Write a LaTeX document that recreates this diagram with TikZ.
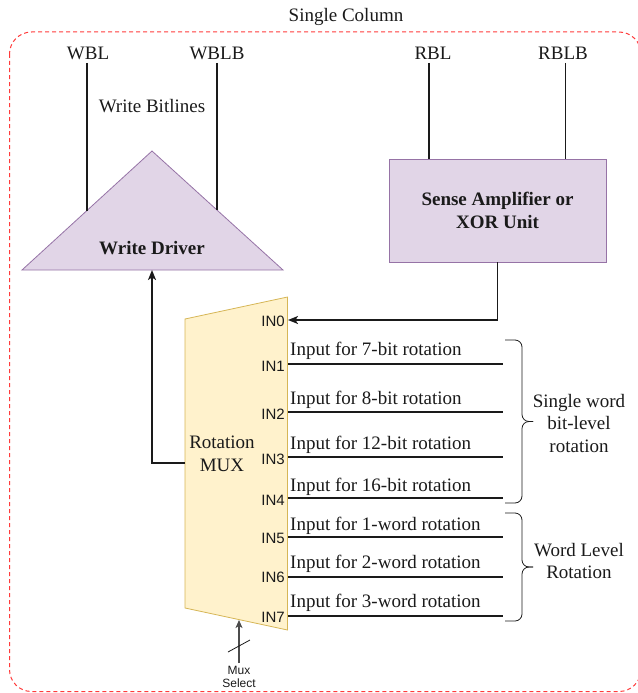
\documentclass[tikz,border=0pt]{standalone}
\usepackage{fontspec}
\setmainfont{Liberation Serif}
\newfontfamily\arialf{Liberation Sans}
\usetikzlibrary{arrows.meta,calc}
\definecolor{purfill}{HTML}{E1D5E7}
\definecolor{purline}{HTML}{9673A6}
\definecolor{yelfill}{HTML}{FFF2CC}
\definecolor{yelline}{HTML}{D6B656}
\definecolor{framered}{HTML}{FF3B3B}
\definecolor{txt}{HTML}{1A1A1A}
\tikzset{
  lbl/.style={font=\fontsize{19}{22.5}\selectfont, inner sep=0pt, text=txt, align=center},
  boldlbl/.style={font=\fontsize{19}{22.5}\selectfont\bfseries, inner sep=0pt, text=txt, align=center},
  inlbl/.style={font=\arialf\fontsize{15}{17}\selectfont, inner sep=0pt, text=txt, anchor=east},
  wire/.style={draw=txt, line width=1.6pt},
  purshape/.style={draw=purline, fill=purfill, line width=0.8pt},
  muxshape/.style={draw=yelline, fill=yelfill, line width=0.8pt},
  bracestyle/.style={draw=txt, line width=0.8pt, rounded corners=7pt},
  tip/.style={-{Stealth[length=10pt,width=8pt,inset=2.5pt]}},
  framestyle/.style={draw=framered, line width=1pt, dash pattern=on 4pt off 3pt, rounded corners=22pt}
}
\begin{document}
\begin{tikzpicture}[x=1pt,y=-1pt]
\useasboundingbox (0,0) rectangle (637,693);
% frame
\draw[framestyle] (9.5,32) rectangle (641,691.5);
\node[lbl] (title) at (346,17) {Single Column};
% top labels
\node[lbl] (wbl)  at (88,53)  {WBL};
\node[lbl] (wblb) at (217,53) {WBLB};
\node[lbl] (rbl)  at (433,53) {RBL};
\node[lbl] (rblb) at (563,53) {RBLB};
\node[lbl] (wbt)  at (152,106) {Write Bitlines};
% write driver triangle
\coordinate (tl) at (22,270);
\coordinate (apex) at (152,151);
\coordinate (tr) at (283,270);
\draw[purshape] (tl) -- (apex) -- (tr) -- cycle;
\node[boldlbl] (wd) at (152,248) {Write Driver};
\coordinate (wdin) at (152,270);
% bitline wires to write driver
\coordinate (wblA) at (87,63);   \coordinate (wblB) at (87,210.5);
\coordinate (wblbA) at (217,63); \coordinate (wblbB) at (217,210);
\draw[wire] (wblA) -- (wblB);
\draw[wire] (wblbA) -- (wblbB);
% sense amplifier box
\node[purshape, boldlbl, minimum width=217pt, minimum height=103pt] (sa) at (497.5,210.5) {Sense Amplifier or\\XOR Unit};
\coordinate (rblA) at (429,63);
\coordinate (rblbA) at (565.5,63);
\draw[wire] (rblA) -- (rblA |- sa.north);
\draw[wire] (rblbA) -- (rblbA |- sa.north);
% MUX
\coordinate (mtl) at (185,319);
\coordinate (mtr) at (287.5,297);
\coordinate (mbr) at (287.5,630);
\coordinate (mbl) at (185,608);
\draw[muxshape] (mtl) -- (mtr) -- (mbr) -- (mbl) -- cycle;
\node[lbl] (mux) at (222,454) {Rotation\\MUX};
% IN labels
\node[inlbl] (in0) at (285,321) {IN0};
\node[inlbl] (in1) at (285,366) {IN1};
\node[inlbl] (in2) at (285,414) {IN2};
\node[inlbl] (in3) at (285,459) {IN3};
\node[inlbl] (in4) at (285,500) {IN4};
\node[inlbl] (in5) at (285,538) {IN5};
\node[inlbl] (in6) at (285,577) {IN6};
\node[inlbl] (in7) at (285,617) {IN7};
% sense amp -> IN0
\coordinate (sabend) at (497.5,320);
\coordinate (in0pt) at (288,320);
\draw[wire, tip] (sa.south) -- (sabend) -- (in0pt);
% MUX output -> write driver
\coordinate (mout) at (185,463);
\coordinate (obend) at (152,463);
\draw[wire, tip] (mout) -- (obend) -- (wdin);
% input lines and labels
\foreach \n/\ly/\ty/\t in {1/364/355/{Input for 7-bit rotation},
                          2/412/404/{Input for 8-bit rotation},
                          3/457/449/{Input for 12-bit rotation},
                          4/498/491/{Input for 16-bit rotation},
                          5/537/530/{Input for 1-word rotation},
                          6/577/568/{Input for 2-word rotation},
                          7/616/607/{Input for 3-word rotation}}{
  \coordinate (ia\n) at (288,\ly);
  \coordinate (ib\n) at (503,\ly);
  \draw[wire] (ia\n) -- (ib\n);
  \node[lbl, anchor=base west] (it\n) at (290,\ty) {\t};
}
% braces
\draw[bracestyle] (505,340) -- (522,340) -- (522,421.5) -- (533,421.5);
\draw[bracestyle] (533,421.5) -- (522,421.5) -- (522,503) -- (505,503);
\node[lbl] (bt1) at (579,423) {Single word\\bit-level\\rotation};
\draw[bracestyle] (505,513) -- (522,513) -- (522,567) -- (533,567);
\draw[bracestyle] (533,567) -- (522,567) -- (522,621) -- (505,621);
\node[lbl] (bt2) at (579,561) {Word Level\\Rotation};
% mux select
\coordinate (msA) at (239,663);
\coordinate (msB) at (239,620);
\draw[draw=black!70, line width=1.2pt, -{Stealth[length=8pt,width=7pt,inset=2pt]}] (msA) -- (msB);
\coordinate (slA) at (228,652);
\coordinate (slB) at (250,640);
\draw[draw=txt, line width=0.8pt] (slA) -- (slB);
\node[font=\arialf\fontsize{12}{13}\selectfont, inner sep=0pt, text=txt, align=center] (msl) at (239,676.5) {Mux\\Select};
\end{tikzpicture}
\end{document}
